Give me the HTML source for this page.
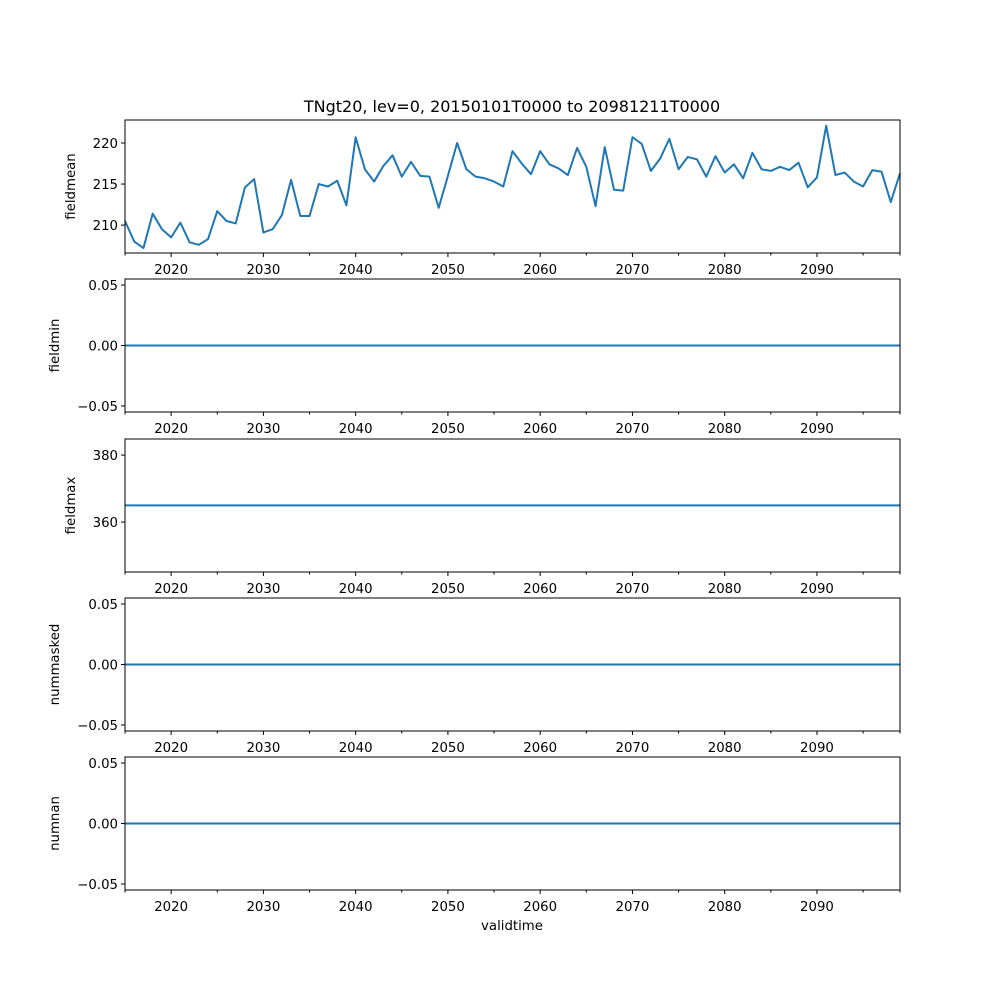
<!DOCTYPE html>
<html><head><meta charset="utf-8"><style>
body{margin:0;background:#fff}
svg text{font-family:"DejaVu Sans","Liberation Sans",sans-serif;font-size:13.3px;fill:#000}
</style></head><body>
<svg id="fig" width="1000" height="1000" viewBox="0 0 1000 1000"></svg>
<script>
const years = [];
for (let y = 2015; y <= 2099; y++) years.push(y);
const fieldmean = [210.5,208,207.2,211.4,209.5,208.5,210.3,207.9,207.6,208.3,211.7,210.5,210.2,214.6,215.6,209.1,209.5,211.2,215.5,211.1,211.1,215,214.7,215.4,212.4,220.7,216.8,215.3,217.2,218.5,215.9,217.7,216,215.9,212.1,216,220,216.8,215.9,215.7,215.3,214.7,219,217.5,216.2,219,217.4,216.9,216.1,219.4,217.1,212.3,219.5,214.3,214.2,220.7,219.9,216.6,218.1,220.5,216.8,218.3,218,215.9,218.4,216.4,217.4,215.7,218.8,216.8,216.6,217.1,216.7,217.6,214.6,215.8,222.1,216.1,216.4,215.3,214.7,216.7,216.5,212.8,216.3];
const fieldmin = years.map(()=>0);
const fieldmax = years.map(()=>365);
const nummasked = years.map(()=>0);
const numnan = years.map(()=>0);
const xMajor = [2020,2030,2040,2050,2060,2070,2080,2090];
const xMinor = [2015,2025,2035,2045,2055,2065,2075,2085,2095,2099];

const panels = [
 {name:'fieldmean', data:fieldmean, top:120, bot:253, ymin:206.6, ymax:222.8, ticks:[210,215,220], fmt:v=>String(v), lx:75},
 {name:'fieldmin', data:fieldmin, top:279, bot:412, ymin:-0.055, ymax:0.055, ticks:[-0.05,0,0.05], fmt:v=>v.toFixed(2).replace('-','\u2212'), lx:59},
 {name:'fieldmax', data:fieldmax, top:439, bot:572, ymin:345.1, ymax:384.8, ticks:[360,380], fmt:v=>String(v), lx:75},
 {name:'nummasked', data:nummasked, top:598, bot:731, ymin:-0.055, ymax:0.055, ticks:[-0.05,0,0.05], fmt:v=>v.toFixed(2).replace('-','\u2212'), lx:59},
 {name:'numnan', data:numnan, top:757, bot:890, ymin:-0.055, ymax:0.055, ticks:[-0.05,0,0.05], fmt:v=>v.toFixed(2).replace('-','\u2212'), lx:59},
];
const NS='http://www.w3.org/2000/svg';
const svg=document.getElementById('fig');
const L=125,R=900;
const xs=y=>L+(y-2015)/(2099-2015)*(R-L);
function mk(tag,attrs,parent){const e=document.createElementNS(NS,tag);for(const k in attrs)e.setAttribute(k,attrs[k]);(parent||svg).appendChild(e);return e;}

const title=mk('text',{x:512,y:112,'text-anchor':'middle'});


title.style.fontSize='16px';
title.textContent='TNgt20, lev=0, 20150101T0000 to 20981211T0000';

panels.forEach(p=>{
 const g=mk('g',{});
 
 
 const ys=v=>p.bot-(v-p.ymin)/(p.ymax-p.ymin)*(p.bot-p.top);
 const d=p.data.map((v,i)=>(i?'L':'M')+xs(years[i]).toFixed(2)+','+ys(v).toFixed(2)).join('');
 const line=mk('path',{d:d,fill:'none',stroke:'#1f77b4','stroke-width':2,'stroke-linejoin':'round'},g);
 
 
 const frame=mk('rect',{x:L,y:p.top,width:R-L,height:p.bot-p.top,fill:'none',stroke:'#000','stroke-width':1},g);
 
 
 p.ticks.forEach(t=>{
  const y=ys(t);
  mk('line',{x1:L-4,x2:L,y1:y,y2:y,stroke:'#000'},g);
  const tl=mk('text',{x:L-7,y:y+5,'text-anchor':'end'},g);
  
  
  tl.textContent=p.fmt(t);
 });
 xMajor.forEach(t=>{
  const x=xs(t);
  mk('line',{x1:x,x2:x,y1:p.bot,y2:p.bot+4,stroke:'#000'},g);
  const tl=mk('text',{x:x,y:p.bot+21,'text-anchor':'middle'},g);
  
  
  tl.textContent=String(t);
 });
 xMinor.forEach(t=>{const x=xs(t);mk('line',{x1:x,x2:x,y1:p.bot,y2:p.bot+2.5,stroke:'#000'},g);});
 const cy=(p.top+p.bot)/2;
 const yl=mk('text',{x:p.lx,y:cy,'text-anchor':'middle',transform:`rotate(-90 ${p.lx} ${cy})`},g);
 
 
 yl.textContent=p.name;
});
const xl=mk('text',{x:512,y:930,'text-anchor':'middle'});


xl.textContent='validtime';
</script>
</body></html>
